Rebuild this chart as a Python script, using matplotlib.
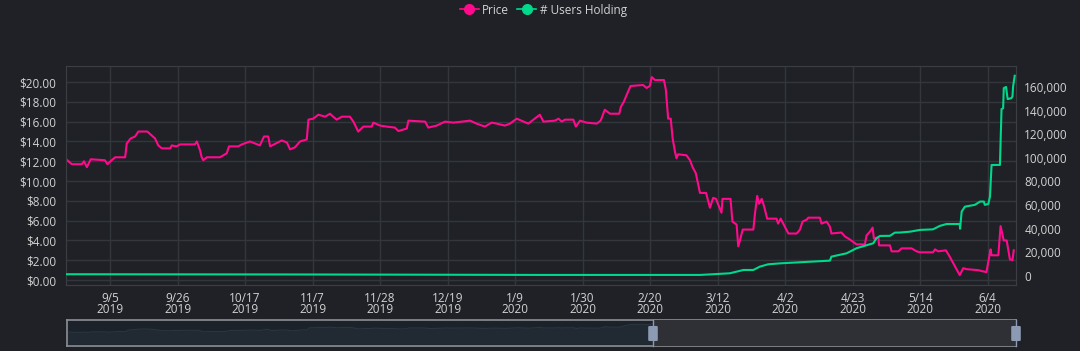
import numpy as np
import pandas as pd
import matplotlib
matplotlib.use("Agg")
import matplotlib.pyplot as plt
from matplotlib.lines import Line2D
from matplotlib.patches import FancyBboxPatch

plt.rcParams['font.family'] = ['Open Sans', 'DejaVu Sans']

# days since 2019-08-22
start = pd.Timestamp("2019-08-22")

price_days = [0.0, 0.7, 2.1, 5.2, 5.9, 6.8, 8.0, 12.4, 13.2, 14.5, 15.6, 18.7, 19.2, 20.4,
              21.8, 22.8, 25.6, 27.0, 28.0, 29.0, 30.1, 32.7, 33.2, 34.7, 35.8, 40.4, 41.0,
              42.0, 42.5, 43.0, 44.1, 48.2, 50.3, 51.0, 53.9, 55.0, 57.5, 60.6, 61.9, 63.2,
              63.8, 67.4, 69.0, 70.0, 71.5, 73.1, 75.2, 75.7, 77.2, 78.8, 80.9, 82.4, 83.4,
              84.5, 86.1, 88.6, 89.7, 91.2, 92.8, 95.4, 95.9, 98.0, 100.0, 102.6, 103.7,
              106.3, 106.8, 112.0, 113.0, 115.6, 118.2, 120.8, 126.0, 128.0, 130.6, 132.7,
              134.3, 136.8, 138.4, 140.5, 144.1, 147.7, 148.8, 152.4, 153.5, 154.5, 155.5,
              158.1, 158.9, 160.2, 162.2, 165.4, 166.6, 167.9, 169.5, 172.4, 172.9, 173.8,
              174.7, 175.9, 179.8, 180.9, 181.9, 182.5, 183.5, 186.3, 186.9, 187.6, 188.4,
              189.0, 189.7, 190.2, 190.7, 193.3, 194.4, 195.2, 196.2, 197.5, 199.4, 200.1,
              200.6, 201.6, 202.5, 203.2, 204.2, 204.5, 207.0, 207.6, 208.9, 209.4, 210.1,
              210.8, 214.1, 214.6, 215.3, 215.9, 216.7, 217.4, 218.4, 221.3, 221.8, 222.6,
              223.9, 225.0, 227.6, 228.6, 229.4, 230.7, 231.2, 234.8, 235.3, 236.9, 237.9,
              238.4, 241.5, 242.6, 244.1, 246.2, 248.8, 249.3, 250.4, 251.2, 251.6, 253.0,
              253.2, 256.6, 257.1, 259.2, 260.2, 263.3, 264.9, 265.9, 270.0, 270.6, 271.6,
              274.0, 275.2, 278.3, 279.4, 280.4, 284.0, 286.6, 287.1, 287.9, 288.2, 290.3,
              291.0, 292.0, 292.9, 293.9, 294.7, 295.1]
price = [12.3, 12.1, 11.7, 11.7, 12.0, 11.4, 12.2, 12.1, 11.7, 12.1, 12.4, 12.4, 13.8, 14.3,
         14.5, 15.0, 15.0, 14.6, 14.3, 13.6, 13.3, 13.3, 13.6, 13.5, 13.7, 13.7, 14.0,
         13.1, 12.4, 12.1, 12.4, 12.4, 12.8, 13.5, 13.5, 13.7, 14.0, 13.6, 14.5, 14.5,
         13.5, 14.1, 13.9, 13.2, 13.4, 14.0, 14.2, 16.2, 16.3, 16.7, 16.5, 16.8, 16.5,
         16.2, 16.5, 16.5, 16.0, 15.0, 15.5, 15.5, 15.9, 15.6, 15.5, 15.4, 15.05,
         15.3, 16.1, 16.0, 15.4, 15.6, 16.0, 15.9, 16.1, 15.8, 15.5, 15.9,
         15.8, 15.6, 15.8, 16.3, 15.8, 16.7, 16.0, 16.1, 16.3, 16.0, 16.2,
         16.2, 15.5, 16.1, 15.9, 15.8, 16.1, 17.2, 16.8, 16.8, 17.5, 18.0,
         18.7, 19.6, 19.7, 19.4, 19.6, 20.5, 20.2, 20.2, 19.2, 16.3, 16.3,
         14.3, 13.0, 12.3, 12.7, 12.6, 12.1, 11.4, 10.8, 8.8, 8.8, 7.9,
         7.3, 8.3, 8.2, 7.6, 6.8, 8.2, 8.2, 5.9, 5.6, 3.4, 4.2,
         5.1, 5.1, 6.7, 8.5, 7.7, 8.2, 7.5, 6.2, 6.2, 5.7, 6.2,
         5.4, 4.7, 4.7, 5.1, 5.9, 6.1, 6.3, 6.3, 5.7, 5.9, 5.4,
         4.7, 4.8, 4.4, 4.1, 3.6, 3.6, 4.5, 4.9, 5.3, 4.2, 4.3,
         3.5, 3.5, 2.9, 2.9, 3.2, 3.2, 2.9, 2.8, 2.8, 3.1, 2.9,
         3.0, 2.35, 0.5, 1.2, 1.1, 1.0, 0.8, 1.7, 3.1, 2.5, 2.5,
         5.45, 4.0, 4.0, 2.1, 2.0, 3.0]

users_days = [0.3, 73.1, 147.7, 197.5, 201.6, 206.8, 211.0, 214.1, 216.1, 218.7, 222.4,
              237.9, 238.4, 243.1, 246.2, 251.4, 252.4, 253.5, 256.6, 258.1, 259.7, 262.8,
              265.9, 270.0, 272.1, 274.2, 278.3, 278.4, 278.9, 279.9, 283.0, 284.6, 285.8,
              286.1, 287.2, 287.7, 288.2, 290.8, 291.3, 291.8, 292.0, 292.7, 293.2, 294.4,
              294.7, 294.9, 295.4]
users = [1500, 1300, 900, 900, 1500, 2300, 5100, 5100, 7900, 9900, 10700,
         13000, 16400, 19200, 23500, 27700, 32000, 33900, 34000, 36700, 36800, 37500,
         39000, 39500, 42400, 44000, 44000, 40000, 54500, 58700, 60200, 63000, 63000,
         60200, 61000, 67200, 94000, 94000, 141300, 142000, 159000, 160000, 149700, 150600,
         152000, 160400, 169500]

tick_dates = pd.date_range("2019-09-05", periods=14, freq="21D")

bg = "#1f2126"
grid_c = "#33363b"
txt = "#d2d2d2"
pink = "#ff0a8c"
green = "#00d88b"

price_t = start + pd.to_timedelta(price_days, unit="D")
users_t = start + pd.to_timedelta(users_days, unit="D")
x0 = start + pd.Timedelta(days=0.3)
x1 = start + pd.Timedelta(days=295.8)

fig = plt.figure(figsize=(10.8, 3.51), dpi=100, facecolor=bg)
ax = fig.add_axes([66 / 1080, 66 / 351, 950 / 1080, 219.3 / 351])
ax.set_facecolor(bg)
ax2 = ax.twinx()

ax.plot(price_t, price, color=pink, lw=1.5, zorder=3)
ax2.plot(users_t, users, color=green, lw=1.5, zorder=3)

ax.set_xlim(x0, x1)
ax.set_ylim(-0.5, 21.65)
ax2.set_ylim(-7620, 178000)

ax.set_yticks(np.arange(0, 21, 2))
ax.set_yticklabels([f"${v:.2f}" for v in np.arange(0, 21, 2)])
ax2.set_yticks(np.arange(0, 160001, 20000))
ax2.set_yticklabels([f"{v:,}" for v in range(0, 160001, 20000)])
ax.set_xticks(tick_dates)
ax.set_xticklabels([f"{d.month}/{d.day}\n{d.year}" for d in tick_dates], linespacing=0.85)

ax.grid(True, color=grid_c, lw=1)
ax.set_axisbelow(True)
for a in (ax, ax2):
    a.tick_params(colors=txt, length=0, labelsize=8.5)
    for s in a.spines.values():
        s.set_color("#3a3d42")
ax.tick_params(axis="y", pad=7)
ax2.tick_params(axis="y", pad=6)
ax.tick_params(axis="x", pad=5)

handles = [Line2D([], [], color=pink, marker="o", ms=7, lw=1.2),
           Line2D([], [], color=green, marker="o", ms=7, lw=1.2)]
fig.legend(handles, ["Price", "# Users Holding"], loc="upper center",
           bbox_to_anchor=(0.503, 1.02), ncol=2, frameon=False, fontsize=8.5,
           labelcolor=txt, handlelength=1.6, handletextpad=0.3, columnspacing=0.7)

# zoom slider
sl = fig.add_axes([67 / 1080, 5 / 351, 949 / 1080, 26 / 351])
sl.set_facecolor("#1b222a")
sl.fill_between(price_t, price, 0, color="#212a33", lw=0)
sl.plot(price_t, price, color="#2a3540", lw=0.8)
sl.set_xlim(x0, x1)
sl.set_ylim(-2, 24)
sel0 = start + pd.Timedelta(days=182.9)
sl.axvspan(sel0, x1, color="#2f3035", zorder=4)
sl.set_xticks([])
sl.set_yticks([])
for s in sl.spines.values():
    s.set_color("#8c8f94")
    s.set_linewidth(1.2)
for hx in (653, 1016):
    fig.lines.append(Line2D([hx / 1080, hx / 1080], [5 / 351, 31 / 351],
                            transform=fig.transFigure, color="#8c9bb3", lw=1, zorder=9))
    fig.patches.append(FancyBboxPatch(((hx - 3) / 1080, 11 / 351), 6 / 1080, 13 / 351,
                                      boxstyle="round,pad=0.001", transform=fig.transFigure,
                                      fc="#8c9bb3", ec="#8c9bb3", zorder=10))

fig.savefig("out.png", dpi=100, facecolor=bg)
